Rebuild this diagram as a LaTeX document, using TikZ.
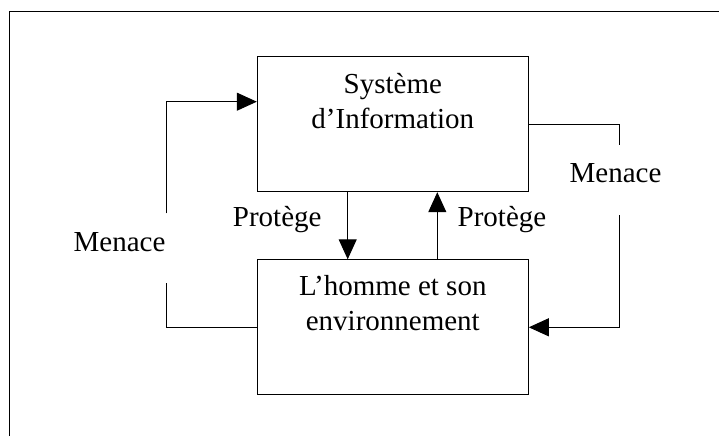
\documentclass[tikz,border=0pt]{standalone}
\usepackage{fontspec}
\setmainfont{Liberation Serif}
\usetikzlibrary{arrows.meta}
\begin{document}
\begin{tikzpicture}[x=1pt,y=-1pt,
  every node/.style={font=\fontsize{29}{35}\selectfont, inner sep=0pt},
  bloc/.style={draw, line width=1pt, minimum width=271pt, minimum height=135pt},
  txt/.style={anchor=base},
  lien/.style={line width=1pt},
  fleche/.style={line width=1pt, -{Triangle[length=20pt,width=18pt]}}]
\useasboundingbox (0,0) rectangle (719,436);
% outer frame (only top and left edges fall inside the page)
\draw[line width=1pt] (9.3,436) -- (9.3,11.3) -- (719,11.3);

% the two boxes
\node[bloc] (si) at (392.8,124.2) {};
\node[bloc] (he) at (392.8,327.3) {};
\node[txt] (si1) at (392.8,93) {Système};
\node[txt] (si2) at (392.8,128) {d’Information};
\node[txt] (he1) at (392.8,295) {L’homme et son};
\node[txt] (he2) at (392.8,330) {environnement};

% labels
\node[txt] (mg) at (119.5,251.7) {Menace};
\node[txt] (md) at (615.5,182.7) {Menace};
\node[txt] (pg) at (277.2,226.7) {Protège};
\node[txt] (pd) at (502,226.7) {Protège};

% helper points for the connectors
\coordinate (g1) at (166.7,283.3);
\coordinate (g2) at (166.7,213.3);
\coordinate (d1) at (619,145.3);
\coordinate (d2) at (619,215);
\coordinate (xa) at (347.7,0);
\coordinate (xb) at (437.3,0);

% left loop: threat from people to the system
\draw[lien] (he.west) -| (g1);
\draw[fleche] (g2) |- ([yshift=22.5pt]si.west);
% right loop: threat from the system to people
\draw[lien] (si.east) -| (d1);
\draw[fleche] (d2) |- (he.east);
% protection arrows between the boxes
\draw[fleche] (si.south -| xa) -- (he.north -| xa);
\draw[fleche] (he.north -| xb) -- (si.south -| xb);
\end{tikzpicture}
\end{document}
